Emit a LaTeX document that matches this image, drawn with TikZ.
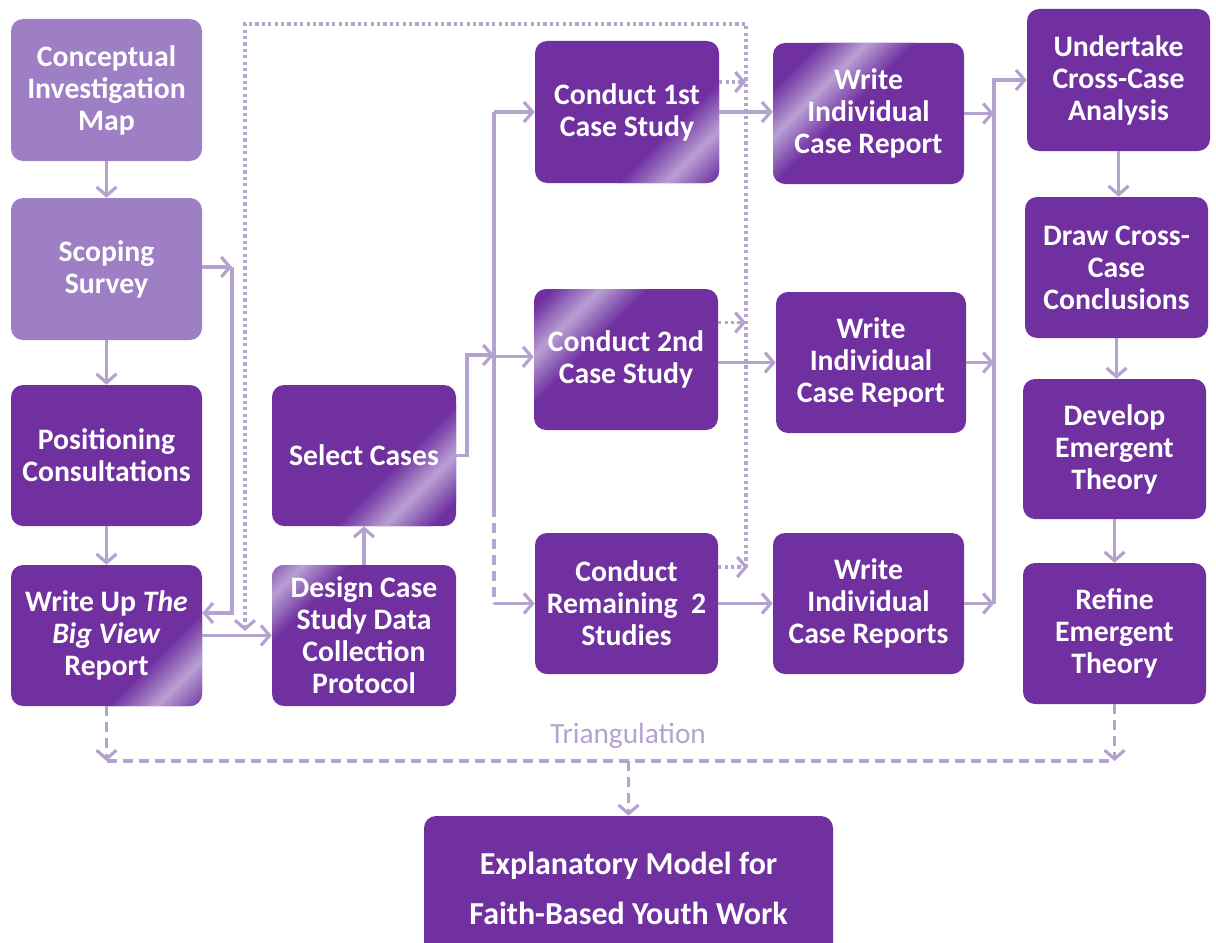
\documentclass[tikz,border=0pt]{standalone}
\usepackage{fontspec}
\setmainfont{Carlito}
\usetikzlibrary{arrows.meta,calc}

\definecolor{dpurple}{HTML}{7030A0}
\definecolor{lpurple}{HTML}{9E7EC4}
\definecolor{lilac}{HTML}{B5A3CF}
\definecolor{sheen}{HTML}{B8A0D4}

\tikzset{
  box/.style={draw=none, fill=dpurple, rounded corners=9pt, text=white,
    font=\bfseries\fontsize{22.3pt}{24pt}\selectfont, align=center, inner sep=0pt},
  pale/.style={box, fill=lpurple},
  sz/.style 2 args={minimum width=#1*0.75pt, minimum height=#2*0.75pt},
  glint/.style 2 args={path picture={
      \coordinate (gc) at ($(path picture bounding box.center)+(#1,#2)$);
      \begin{scope}[transform canvas={rotate around={-45:(gc)}}]
        \shade[left color=dpurple, right color=dpurple, middle color=sheen]
          ($(gc)+(-34,-300)$) rectangle ($(gc)+(34,300)$);
      \end{scope}}},
  conn/.style={draw=lilac, line width=2.4pt},
  dashln/.style={conn, dash pattern=on 7.5pt off 4.5pt},
  dotln/.style={conn, dash pattern=on 2.4pt off 2.4pt},
  tip/.style={-{Straight Barb[length=6.5pt,width=15pt,line width=2.4pt]}},
  lbl/.style={text=lilac, font=\fontsize{22pt}{24pt}\selectfont}
}

\begin{document}
\begin{tikzpicture}[x=0.75pt,y=-0.75pt]
\useasboundingbox (0,0) rectangle (1216,942);

% left column
\node[pale, sz={191}{142}] (cim) at (106.5,90) {Conceptual\\Investigation\\Map};
\node[pale, sz={191}{142}] (ss) at (106.5,269) {Scoping\\Survey};
\node[box, sz={191}{141}] (pc) at (106.5,455.5) {Positioning\\Consultations};
\node[box, sz={191}{141}, glint={60}{60}] (wu) at (106.5,635.5) {Write Up \textit{The}\\\textit{Big View}\\Report};

% case selection
\node[box, sz={184}{141}, glint={45}{45}] (sc) at (364,455.5) {Select Cases};
\node[box, sz={184}{141}, glint={-66}{-66}] (dc) at (364,635.5) {Design Case\\Study Data\\Collection\\Protocol};

% case studies
\node[box, sz={184}{142}, glint={55}{55}] (c1) at (627,112) {Conduct 1st\\Case Study};
\node[box, sz={184}{141}, glint={-48}{-48}] (c2) at (626,359.5) {Conduct 2nd\\Case Study};
\node[box, sz={183}{141}] (cr) at (626.5,603.5) {Conduct\\Remaining\ \ 2\\Studies};

% case reports
\node[box, sz={191}{141}, glint={-36}{-36}] (w1) at (868.5,113.5) {Write\\Individual\\Case Report};
\node[box, sz={190}{141}] (w2) at (871,362.5) {Write\\Individual\\Case Report};
\node[box, sz={191}{141}] (wr) at (868.5,603.5) {Write\\Individual\\Case Reports};

% cross-case column
\node[box, sz={183}{142}] (ua) at (1118.5,80) {Undertake\\Cross-Case\\Analysis};
\node[box, sz={183}{141}] (dr) at (1116.5,267.5) {Draw Cross-\\Case\\Conclusions};
\node[box, sz={183}{140}] (de) at (1114.5,449) {Develop\\Emergent\\Theory};
\node[box, sz={183}{141}] (re) at (1114.5,633.5) {Refine\\Emergent\\Theory};

% outcome
\node[box, sz={409}{144}, font=\bfseries\fontsize{24pt}{37.5pt}\selectfont] (em) at (628.5,888)
  {Explanatory Model for\\Faith-Based Youth Work};

% junction points
\coordinate (jss) at (232,267);
\coordinate (jwu) at (232,613);
\coordinate (fbr) at (746,24);
\coordinate (fbl) at (245,24);
\coordinate (fbe) at (245,631);
\coordinate (jsc) at (467,355);
\coordinate (tk) at (494,0);
\coordinate (tkd) at (494,507);
\coordinate (tk2) at (994,0);
\coordinate (tl) at (107,761);
\coordinate (tr) at (1116,761);
\coordinate (d1) at ([yshift=22.5pt]c1.east);
\coordinate (d2) at ([yshift=27.75pt]c2.east);
\coordinate (d3) at ([yshift=27.4pt]cr.east);

% left column flow
\draw[conn,tip] (cim.south) -- (ss.north);
\draw[conn,tip] (ss.south) -- (pc.north);
\draw[conn,tip] (pc.south) -- (wu.north);
\draw[conn,tip] (ss.east |- jss) -- (jss);
\draw[conn,tip] (jss) -- (jwu) -- (jwu -| wu.east);
\draw[conn,tip] (wu.east) -- (wu.east -| dc.west);
\draw[conn,tip] (dc.north) -- (sc.south);

% feedback from the case studies
\draw[dotln,tip] (d1) -- (d1 -| fbr);
\draw[dotln,tip] (d2) -- (d2 -| fbr);
\draw[dotln,tip] (d3) -- ($(d3 -| fbr)+(2,0)$);
\draw[dotln,tip] (d3 -| fbr) -- (fbr) -- (fbl) -- (fbe);

% case study branching
\draw[conn,tip] (sc.east) -| (jsc) -- (jsc -| tk);
\draw[conn] (tk |- c1.west) -- (tkd);
\draw[dashln] (tkd) -- (tk |- cr.west);
\draw[conn,tip] (tk |- c1.west) -- (c1.west);
\draw[conn,tip] ([yshift=2pt]tk |- c2.west) -- ([yshift=2pt]c2.west);
\draw[conn,tip] (tk |- cr.west) -- (cr.west);

% studies to reports
\draw[conn,tip] (c1.east) -- (c1.east -| w1.west);
\draw[conn,tip] (c2.east |- w2.west) -- (w2.west);
\draw[conn,tip] (cr.east) -- (cr.east -| wr.west);

% reports to cross-case analysis
\draw[conn,tip] (w1.east) -- (w1.east -| tk2);
\draw[conn,tip] (w2.east) -- (w2.east -| tk2);
\draw[conn,tip] (wr.east) -- (wr.east -| tk2);
\draw[conn,tip] (wr.east -| tk2) |- (ua.west);

% cross-case column flow
\draw[conn,tip] (ua.south) -- (ua.south |- dr.north);
\draw[conn,tip] (dr.south) -- (dr.south |- de.north);
\draw[conn,tip] (de.south) -- (re.north);

% triangulation
\draw[dashln,tip] (wu.south) -- (wu.south |- tl);
\draw[dashln,tip] (re.south) -- (re.south |- tr);
\draw[dashln] (wu.south |- tl) -- (re.south |- tr);
\draw[dashln,tip] (em.north |- tl) -- (em.north);
\node[lbl] (tri) at (628,736) {Triangulation};

\end{tikzpicture}
\end{document}
